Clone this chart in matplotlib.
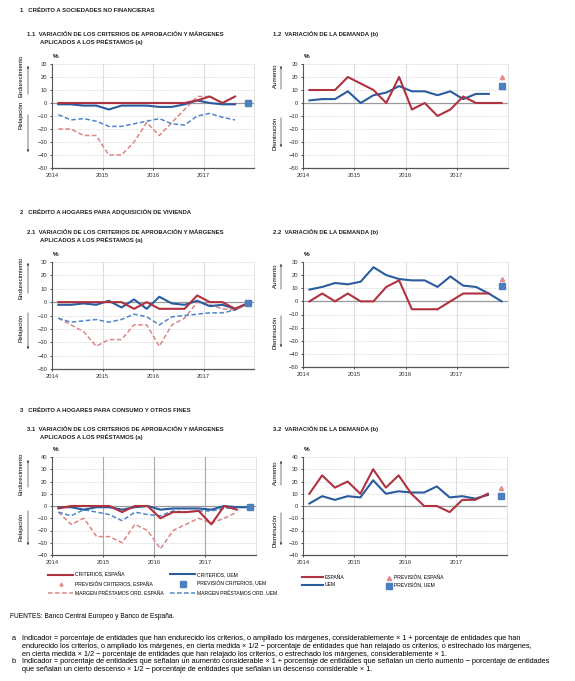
import numpy as np
import matplotlib
matplotlib.use("Agg")
import matplotlib.pyplot as plt
from matplotlib import font_manager as fm
from matplotlib.patches import FancyArrowPatch

# fonts: narrow sans if there is one
names = set(f.name for f in fm.fontManager.ttflist)
FONT = 'Liberation Sans Narrow' if 'Liberation Sans Narrow' in names else 'Liberation Sans'
plt.rcParams['font.family'] = [FONT, 'DejaVu Sans']

# quarters 2014Q1 .. 2017Q4 (position = middle of quarter)
quarters = 2014 + (np.arange(16) + 0.5) / 4
years = [2014, 2015, 2016, 2017]

# 1.1 criterios / margenes, sociedades no financieras
crit_esp_11 = [0, 0, 0, 0, 0, 0, 0, 0, 0, 0, 0, 2, 5, 0, 5]
crit_uem_11 = [-1, -1, -2, -2, -5, -2, -2, -2, -3, -3, -1, 2, 0, -1, -1]
marg_esp_11 = [-20, -20, -25, -25, -40, -40, -30, -15, -25, -15, -5, 5, 5, 0, 5]
marg_uem_11 = [-9, -13, -12, -14, -18, -18, -16, -14, -12, -16, -17, -10, -8, -11, -13]
prev_11 = (0, 0)   # (espana, uem)

# 1.2 demanda
dem_esp_12 = [10, 10, 10, 20, 15, 10, 0, 20, -5, 0, -10, -5, 5, 0, 0, 0]
dem_uem_12 = [2, 3, 3, 9, 0, 6, 8, 13, 9, 9, 6, 9, 3, 7, 7]
prev_12 = (20, 13)

# 2.1 vivienda
crit_esp_21 = [0, 0, 0, 0, 0, 0, -5, 0, -5, -5, -5, 5, 0, 0, -5, -1]
crit_uem_21 = [-2, -2, -1, -2, 1, -4, 2, -5, 4, -1, -2, 1, -3, -2, -5, -1]
marg_esp_21 = [-12, -17, -22, -33, -28, -28, -17, -17, -33, -17, -12, 0, -2, -5, -6, -1]
marg_uem_21 = [-12, -15, -14, -13, -15, -13, -9, -11, -17, -11, -10, -9, -8, -8, -6, -1]
prev_21 = (-1, -1)

# 2.2 demanda vivienda
dem_esp_22 = [0, 6, 0, 6, 0, 0, 11, 16, -6, -6, -6, 0, 6, 6, 6]
dem_uem_22 = [9, 11, 14, 13, 15, 26, 20, 17, 16, 16, 11, 19, 12, 11, 6, 0]
prev_22 = (17, 12)

# 3.1 consumo
crit_esp_31 = [-2, 0, 0, 0, 0, -5, 0, 0, -10, -5, -5, -4, -15, 0, -3]
crit_uem_31 = [-1, -1, -3, -1, -1, -3, -1, 0, -3, -2, -2, -2, -3, 0, -1, -1]
marg_esp_31 = [-5, -15, -10, -25, -25, -30, -15, -20, -35, -20, -15, -10, -14, -10, -5]
marg_uem_31 = [-5, -8, -3, -5, -7, -12, -5, -7, -8, -4, -5, -4, -4, -2, -1]
prev_31 = (-1, -1)

# 3.2 demanda consumo
dem_esp_32 = [10, 25, 15, 20, 10, 30, 15, 25, 10, 0, 0, -5, 5, 5, 10]
dem_uem_32 = [2, 8, 5, 8, 7, 21, 10, 12, 11, 11, 16, 7, 8, 6, 9]
prev_32 = (15, 8)

legend_crit = ['CRITERIOS, ESPAÑA', 'PREVISIÓN CRITERIOS, ESPAÑA', 'MARGEN PRÉSTAMOS ORD. ESPAÑA',
               'CRITERIOS, UEM', 'PREVISIÓN CRITERIOS, UEM', 'MARGEN PRÉSTAMOS ORD. UEM']
legend_dem = ['ESPAÑA', 'UEM', 'PREVISIÓN, ESPAÑA', 'PREVISIÓN, UEM']

RED = '#b0323f'
BLUE = '#2a5c9e'
RED_L = '#dd8585'
BLUE_L = '#4f86c8'
SQ = '#4a7fc0'
TRI = '#e58a8f'

W, H = 575, 681
fig = plt.figure(figsize=(W / 100, H / 100), dpi=100)
fig.patch.set_facecolor('white')


def fx(x):
    return x / W


def fy(y):
    return 1 - y / H


def make_ax(x0, y0, x1, y1, ylim, dark_vgrid=False):
    ax = fig.add_axes([fx(x0), fy(y1), fx(x1 - x0), (y1 - y0) / H])
    ax.set_xlim(2014, 2018)
    ax.set_ylim(*ylim)
    ax.set_yticks(np.arange(ylim[0], ylim[1] + 1, 10))
    ax.set_xticks(years)
    ax.set_xticklabels([str(y) for y in years])
    ax.tick_params(labelsize=4.2, length=1.5, width=0.6, pad=1.8, colors='#333333')
    ax.spines['top'].set_visible(False)
    ax.spines['right'].set_color('#dddddd')
    ax.spines['right'].set_linewidth(0.6)
    ax.spines['left'].set_color('#555555')
    ax.spines['bottom'].set_color('#555555')
    ax.spines['left'].set_linewidth(0.8)
    ax.spines['bottom'].set_linewidth(0.9)
    for v in np.arange(ylim[0] + 10, ylim[1] + 1, 10):
        if v != 0:
            ax.axhline(v, color='#cccccc', lw=0.5, ls=(0, (1.5, 1.5)), zorder=0)
    for yr in years[1:]:
        ax.axvline(yr, color='#aaaaaa' if dark_vgrid else '#dddddd', lw=0.8, zorder=0)
    ax.axhline(0, color='#999999', lw=0.9, zorder=1)
    ax.text(2014.02, ylim[1] + (ylim[1] - ylim[0]) * 0.05, '%', fontsize=4.6,
            fontweight='bold', ha='left', va='bottom')
    return ax


def side_labels(x_txt, x_arr, up, down, up_txt, down_txt):
    # rotated labels with arrows on the left of the panel
    fig.text(fx(x_txt), fy(sum(up[2]) / 2), up_txt, rotation=90, fontsize=4.4,
             ha='center', va='center')
    fig.text(fx(x_txt), fy(sum(down[2]) / 2), down_txt, rotation=90, fontsize=4.4,
             ha='center', va='center')
    for a, b in [up[:2], down[:2]]:
        fig.add_artist(FancyArrowPatch((fx(x_arr), fy(a)), (fx(x_arr), fy(b)),
                                       transform=fig.transFigure, arrowstyle='-|>',
                                       mutation_scale=3, lw=0.5, color='#444444'))


def crit_panel(ax, ce, cu, me, mu, prev):
    l1, = ax.plot(quarters[:len(me)], me, color=RED_L, lw=1.1, ls=(0, (3, 1.6)), zorder=3)
    l2, = ax.plot(quarters[:len(mu)], mu, color=BLUE_L, lw=1.1, ls=(0, (3, 1.6)), zorder=3)
    l3, = ax.plot(quarters[:len(cu)], cu, color=BLUE, lw=1.5, zorder=4)
    l4, = ax.plot(quarters[:len(ce)], ce, color=RED, lw=1.5, zorder=5)
    l5, = ax.plot([quarters[15]], [prev[0]], marker='^', ms=2.2, color=TRI, ls='none', zorder=5)
    l6, = ax.plot([quarters[15]], [prev[1]], marker='s', ms=4, color=SQ, ls='none', zorder=6)
    return [l4, l5, l1, l3, l6, l2]


def dem_panel(ax, de, du, prev):
    l1, = ax.plot(quarters[:len(du)], du, color=BLUE, lw=1.5, zorder=4)
    l2, = ax.plot(quarters[:len(de)], de, color=RED, lw=1.5, zorder=5)
    l3, = ax.plot([quarters[15]], [prev[0]], marker='^', ms=3, color=TRI, ls='none', zorder=5)
    l4, = ax.plot([quarters[15]], [prev[1]], marker='s', ms=4, color=SQ, ls='none', zorder=6)
    return [l2, l1, l3, l4]


def title(x, y, s, size=4.3):
    fig.text(fx(x), fy(y), s, fontsize=size, fontweight='bold', ha='left', va='center',
             color='#222222')


# section 1
title(20, 10, '1   CRÉDITO A SOCIEDADES NO FINANCIERAS')
title(27, 34, '1.1  VARIACIÓN DE LOS CRITERIOS DE APROBACIÓN Y MÁRGENES')
title(40, 42, 'APLICADOS A LOS PRÉSTAMOS (a)')
title(273, 34, '1.2  VARIACIÓN DE LA DEMANDA (b)')
ax11 = make_ax(52, 64, 254, 168, (-50, 30))
crit_panel(ax11, crit_esp_11, crit_uem_11, marg_esp_11, marg_uem_11, prev_11)
ax12 = make_ax(303, 64, 508, 168, (-50, 30))
dem_panel(ax12, dem_esp_12, dem_uem_12, prev_12)
side_labels(21, 28, (97, 63, (63, 88)), (112, 155, (105, 124)), 'Endurecimiento', 'Relajación')
side_labels(275, 281, (92, 63, (64, 88)), (115, 150, (116, 150)), 'Aumento', 'Disminución')

# section 2
title(20, 212, '2   CRÉDITO A HOGARES PARA ADQUISICIÓN DE VIVIENDA')
title(27, 232, '2.1  VARIACIÓN DE LOS CRITERIOS DE APROBACIÓN Y MÁRGENES')
title(40, 240, 'APLICADOS A LOS PRÉSTAMOS (a)')
title(273, 232, '2.2  VARIACIÓN DE LA DEMANDA (b)')
ax21 = make_ax(52, 262, 254, 369, (-50, 30))
crit_panel(ax21, crit_esp_21, crit_uem_21, marg_esp_21, marg_uem_21, prev_21)
ax22 = make_ax(303, 262, 508, 367, (-50, 30))
dem_panel(ax22, dem_esp_22, dem_uem_22, prev_22)
side_labels(21, 28, (296, 260, (260, 296)), (310, 352, (314, 342)), 'Endurecimiento', 'Relajación')
side_labels(275, 281, (292, 261, (262, 290)), (313, 350, (314, 350)), 'Aumento', 'Disminución')

# section 3
title(20, 410, '3   CRÉDITO A HOGARES PARA CONSUMO Y OTROS FINES')
title(27, 429, '3.1  VARIACIÓN DE LOS CRITERIOS DE APROBACIÓN Y MÁRGENES')
title(40, 437, 'APLICADOS A LOS PRÉSTAMOS (a)')
title(273, 429, '3.2  VARIACIÓN DE LA DEMANDA (b)')
ax31 = make_ax(52, 457, 256, 555, (-40, 40), dark_vgrid=True)
h31 = crit_panel(ax31, crit_esp_31, crit_uem_31, marg_esp_31, marg_uem_31, prev_31)
ax32 = make_ax(303, 457, 507, 555, (-40, 40))
h32 = dem_panel(ax32, dem_esp_32, dem_uem_32, prev_32)
side_labels(21, 28, (490, 457, (458, 490)), (508, 548, (512, 542)), 'Endurecimiento', 'Relajación')
side_labels(275, 281, (488, 458, (460, 486)), (510, 548, (512, 548)), 'Aumento', 'Disminución')

# legends, one per column
LEG = dict(loc='upper left', frameon=False, fontsize=3.6, handletextpad=0.4,
           borderpad=0, borderaxespad=0)
fig.legend(h31[:3], legend_crit[:3], bbox_to_anchor=(fx(48), fy(572)),
           handlelength=5.0, labelspacing=0.8, **LEG)
fig.legend(h31[3:], legend_crit[3:], bbox_to_anchor=(fx(170), fy(572)),
           handlelength=5.0, labelspacing=0.8, **LEG)
fig.legend(h32[:2], legend_dem[:2], bbox_to_anchor=(fx(302), fy(575)),
           handlelength=4.2, labelspacing=0.45, **LEG)
fig.legend(h32[2:], legend_dem[2:], bbox_to_anchor=(fx(386), fy(575)),
           handlelength=1.2, labelspacing=0.45, **LEG)

# notes
fig.text(fx(10), fy(617), 'FUENTES: Banco Central Europeo y Banco de España.', fontsize=4.8,
         va='center')
notes = [
    ('a', 'Indicador = porcentaje de entidades que han endurecido los criterios, o ampliado los márgenes, considerablemente × 1 + porcentaje de entidades que han'),
    ('', 'endurecido los criterios, o ampliado los márgenes, en cierta medida × 1/2 − porcentaje de entidades que han relajado os criterios, o estrechado los márgenes,'),
    ('', 'en cierta medida × 1/2 − porcentaje de entidades que han relajado los criterios, o estrechado los márgenes, considerablemente × 1.'),
    ('b', 'Indicador = porcentaje de entidades que señalan un aumento considerable × 1 + porcentaje de entidades que señalan un cierto aumento − porcentaje de entidades'),
    ('', 'que señalan un cierto descenso × 1/2 − porcentaje de entidades que señalan un descenso considerable × 1.'),
]
for i, (k, s) in enumerate(notes):
    y = 639 + i * 7.6
    if k:
        fig.text(fx(12), fy(y), k, fontsize=5.3, va='center')
    fig.text(fx(22), fy(y), s, fontsize=5.3, va='center')

fig.savefig('out.png', dpi=100)
